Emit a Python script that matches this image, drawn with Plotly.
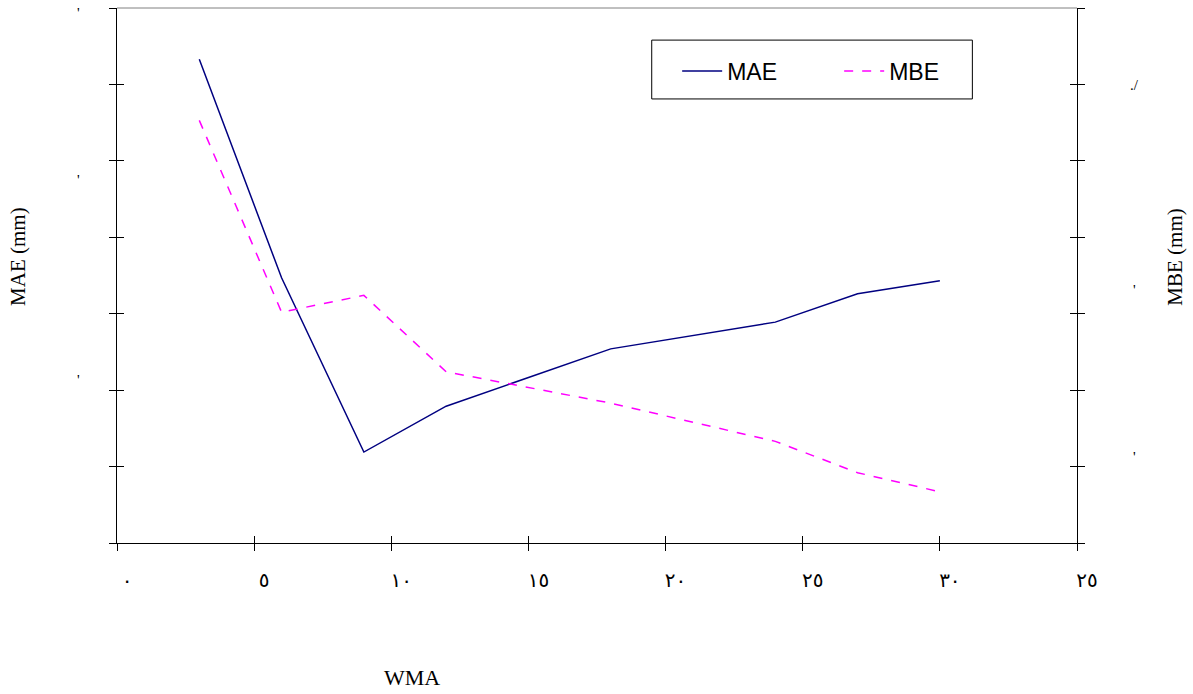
import plotly.graph_objects as go

# WMA window length and the two error measures
wma = [3, 6, 9, 12, 18, 24, 27, 30]
mae = [6.33, 3.47, 1.19, 1.79, 2.54, 2.89, 3.26, 3.43]
mbe = [5.53, 3.02, 3.24, 2.24, 1.83, 1.33, 0.92, 0.67]

# x-axis ticks and their (Arabic-Indic) labels
x_ticks = [0, 5, 10, 15, 20, 25, 30, 35]
x_labels = ["٠", "٥", "١٠", "١٥", "٢٠", "٢٥", "٣٠", "٢٥"]
y_ticks = [0, 1, 2, 3, 4, 5, 6, 7]

# stray marks printed beside the value axes
left_marks = [(6.93, "'"), (4.75, "'"), (2.13, "'")]
right_marks = [(5.99, "./"), (3.31, "'"), (1.13, "'")]

SERIF = "Liberation Serif"
SANS = "Liberation Sans"

fig = go.Figure()
fig.add_trace(go.Scatter(
    x=wma, y=mae, name="MAE", mode="lines",
    line=dict(color="#000080", width=1.5),
    xaxis="x", yaxis="y",
))
fig.add_trace(go.Scatter(
    x=wma, y=mbe, name="MBE", mode="lines",
    line=dict(color="#FF00FF", width=1.5, dash="dash"),
    xaxis="x", yaxis="y2",
))
# placeholder traces so the overlay axes (inner half of the crossing ticks) get drawn
for xa, ya in [("x2", "y"), ("x", "y3"), ("x", "y4")]:
    fig.add_trace(go.Scatter(x=[None], y=[None], xaxis=xa, yaxis=ya, mode="lines",
                             showlegend=False, hoverinfo="skip"))

axis_common = dict(showgrid=False, zeroline=False, tickcolor="black", tickwidth=1)
inner_common = dict(showgrid=False, zeroline=False, tickcolor="black", tickwidth=1,
                    ticks="inside", ticklen=7, showticklabels=False, showline=False)

fig.update_layout(
    width=1193, height=694,
    margin=dict(l=117, r=116, t=8, b=151),
    paper_bgcolor="white", plot_bgcolor="white",
    showlegend=True,
    xaxis=dict(range=[0, 35], tickvals=x_ticks, ticktext=x_labels,
               ticks="outside", ticklen=7, showline=True, linecolor="black",
               linewidth=1, anchor="y", ticklabelstandoff=12, ticklabelshift=10,
               tickfont=dict(family="DejaVu Sans", size=20, color="black"),
               **axis_common),
    xaxis2=dict(range=[0, 35], tickvals=x_ticks, overlaying="x", anchor="y",
                side="bottom", **inner_common),
    yaxis=dict(range=[0, 7], tickvals=y_ticks, ticks="outside", ticklen=7,
               showticklabels=False, showline=True, linecolor="black",
               linewidth=1, anchor="x", **axis_common),
    yaxis3=dict(range=[0, 7], tickvals=y_ticks, overlaying="y", side="left",
                anchor="x", **inner_common),
    yaxis2=dict(range=[0, 7], tickvals=y_ticks, overlaying="y", side="right",
                anchor="x", ticks="outside", ticklen=7, showticklabels=False,
                showline=True, linecolor="black", linewidth=1, **axis_common),
    yaxis4=dict(range=[0, 7], tickvals=y_ticks, overlaying="y", side="right",
                anchor="x", **inner_common),
    legend=dict(orientation="h", x=0.5835, y=0.882, xanchor="left", yanchor="middle",
                bgcolor="rgba(0,0,0,0)", borderwidth=0,
                font=dict(family=SANS, size=23, color="black"),
                entrywidth=107, entrywidthmode="pixels", itemwidth=40),
)

# top frame line and legend box
fig.add_shape(type="line", xref="paper", yref="paper", x0=0, x1=1, y0=1, y1=1,
              line=dict(color="#808080", width=1))
fig.add_shape(type="rect", xref="paper", yref="paper",
              x0=0.557, x1=0.891, y0=0.830, y1=0.940,
              line=dict(color="black", width=1), fillcolor="white", layer="below")

mark_font = dict(family=SERIF, size=15, color="black")
annotations = []
for yv, txt in left_marks:
    annotations.append(dict(x=-0.0406, y=yv, xref="paper", yref="y", text=txt,
                            xanchor="center", yanchor="middle",
                            showarrow=False, font=mark_font))
for yv, txt in right_marks:
    annotations.append(dict(x=1.0595, y=yv, xref="paper", yref="y", text=txt,
                            xanchor="center", yanchor="middle",
                            showarrow=False, font=mark_font))
annotations += [
    dict(x=-0.103, y=0.535, xref="paper", yref="paper", text="MAE (mm)",
         xanchor="center", yanchor="middle", textangle=-90, showarrow=False,
         font=dict(family=SERIF, size=21, color="black")),
    dict(x=1.102, y=0.535, xref="paper", yref="paper", text="MBE (mm)",
         xanchor="center", yanchor="middle", textangle=-90, showarrow=False,
         font=dict(family=SERIF, size=21, color="black")),
    dict(x=0.307, y=-0.252, xref="paper", yref="paper", text="WMA",
         xanchor="center", yanchor="middle", showarrow=False,
         font=dict(family=SERIF, size=22, color="black")),
]
fig.update_layout(annotations=annotations)

fig.write_html("out.html")
